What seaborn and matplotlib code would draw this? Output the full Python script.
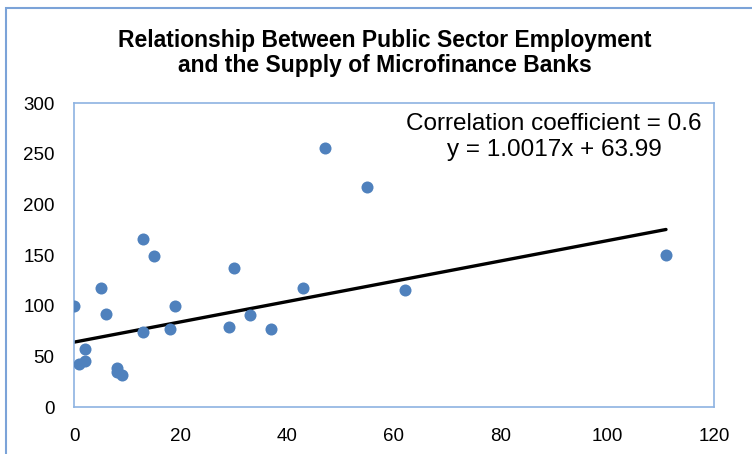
import numpy as np
import pandas as pd
import seaborn as sns
from matplotlib import pyplot as plt
from matplotlib.patches import Rectangle

# values
public_emp = [0, 1, 2, 2, 5, 6, 8, 8, 9, 13, 13, 15, 18, 19,
              29, 30, 33, 37, 43, 47, 55, 62, 111]
mfb_supply = [100, 42, 45, 57, 117, 92, 38, 35, 32, 166, 74, 149, 77, 100,
              79, 137, 91, 77, 117, 256, 217, 115, 150]
slope = 1.0017
intercept = 63.99
corr = 0.6
x_ticks = [0, 20, 40, 60, 80, 100, 120]
y_ticks = [0, 50, 100, 150, 200, 250, 300]

df = pd.DataFrame({'emp': public_emp, 'mfb': mfb_supply})

sns.set_theme(style='white')
plt.rcParams['font.family'] = ['Liberation Sans', 'DejaVu Sans']
plt.rcParams['text.color'] = 'black'

fig = plt.figure(figsize=(7.52, 4.54), dpi=100)
ax = fig.add_axes([74/752, 1 - 407/454, 640/752, 304/454])

sns.scatterplot(data=df, x='emp', y='mfb', ax=ax, color='#4F81BD',
                s=75, linewidth=0, marker='o', zorder=3)

# excel linear trendline from the fitted equation
xs = np.array([min(public_emp), max(public_emp)])
ax.plot(xs, slope * xs + intercept, color='black', lw=2.4, zorder=2)

ax.set_xlim(0, 120)
ax.set_ylim(0, 300)
ax.set_xticks(x_ticks)
ax.set_yticks(y_ticks)
ax.set_xlabel('')
ax.set_ylabel('')
ax.tick_params(axis='both', length=0, labelsize=13.5, colors='black')
ax.tick_params(axis='x', pad=15)
ax.tick_params(axis='y', pad=14)
for sp in ax.spines.values():
    sp.set_visible(True)
    sp.set_color('#8DB3E2')
    sp.set_linewidth(1.2)

fig.text(385/752, 1 - 53/454,
         'Relationship Between Public Sector Employment\nand the Supply of Microfinance Banks',
         ha='center', va='center', fontsize=16.5, fontweight='bold', linespacing=1.1,
         color='black')

fig.text(554/752, 1 - 137/454,
         'Correlation coefficient = {}\ny = {}x + {}'.format(corr, slope, intercept),
         ha='center', va='center', fontsize=17.5, linespacing=1.25, color='black')

# chart-area border (only top and left are inside the picture)
fig.patches.append(Rectangle((6/752, -0.2), 1.2, 1.2 - 8/454, transform=fig.transFigure,
                             fill=False, edgecolor='#7BA3D8', lw=1.5))

fig.savefig('out.png', dpi=100)
